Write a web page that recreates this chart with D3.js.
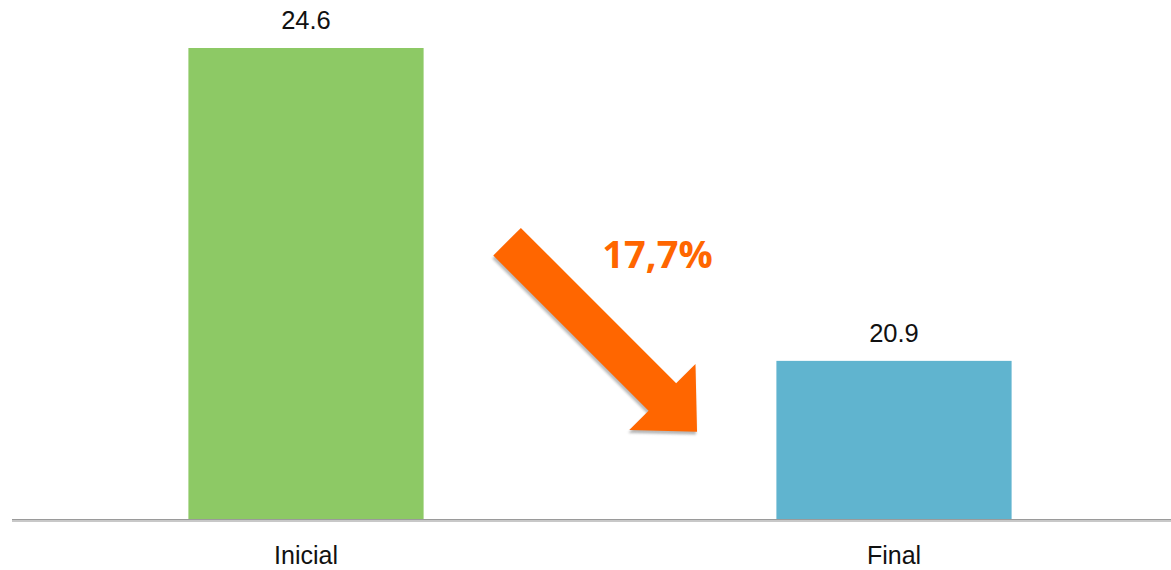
<!DOCTYPE html>
<html>
<head>
    <script src="https://d3js.org/d3.v7.min.js"></script>
    <style>
        body { margin: 0; background: #fff; }
    </style>
</head>
<body>
    <svg width="1171" height="570"></svg>

    <script>
        var categories = ["Inicial", "Final"];
        var values = [24.6, 20.9];
        var valueLabels = ["24.6", "20.9"];
        var barColors = ["#8dc965", "#60b4cf"];
        var changeLabel = "17,7%";

        var width = 1171;
        var height = 570;
        var baseY = 519;

        var svg = d3.select("svg")
            .attr("width", width)
            .attr("height", height);

        var x = d3.scaleBand()
            .domain(categories)
            .range([12, 1188])
            .paddingInner(0.6)
            .paddingOuter(0.3);

        // el eje no empieza en cero
        var y = d3.scaleLinear()
            .domain([19.03, 24.6])
            .range([baseY, 48]);

        var data = categories.map(function(c, i) {
            return { cat: c, val: values[i], label: valueLabels[i], color: barColors[i] };
        });

        svg.selectAll(".bar")
            .data(data)
            .enter().append("rect")
            .attr("class", "bar")
            .attr("x", function(d) { return x(d.cat); })
            .attr("y", function(d) { return y(d.val); })
            .attr("width", x.bandwidth())
            .attr("height", function(d) { return baseY - y(d.val); })
            .attr("fill", function(d) { return d.color; });

        // línea base
        svg.append("line")
            .attr("x1", 12).attr("x2", width)
            .attr("y1", baseY + 0.5).attr("y2", baseY + 0.5)
            .attr("stroke", "#9a9a9a").attr("stroke-width", 1);
        svg.append("line")
            .attr("x1", 12).attr("x2", width)
            .attr("y1", baseY + 2).attr("y2", baseY + 2)
            .attr("stroke", "#c8c8c8").attr("stroke-width", 2);

        // valores encima de las barras
        svg.selectAll(".val")
            .data(data)
            .enter().append("text")
            .attr("class", "val")
            .attr("x", function(d) { return x(d.cat) + x.bandwidth() / 2; })
            .attr("y", function(d) { return y(d.val) - 19; })
            .attr("text-anchor", "middle")
            .style("font-family", "'Liberation Sans', Arial, sans-serif")
            .style("font-size", "25.5px")
            .style("fill", "#111")
            .text(function(d) { return d.label; });

        // etiquetas de categoría
        svg.selectAll(".cat")
            .data(data)
            .enter().append("text")
            .attr("class", "cat")
            .attr("x", function(d) { return x(d.cat) + x.bandwidth() / 2; })
            .attr("y", 564)
            .attr("text-anchor", "middle")
            .style("font-family", "'Liberation Sans', Arial, sans-serif")
            .style("font-size", "25px")
            .style("fill", "#111")
            .text(function(d) { return d.cat; });

        // flecha de variación
        var L = 268.6, shaftW = 19.5, headW = 46.8, headL = 49;
        var arrowPts = [[0, -shaftW], [L - headL, -shaftW], [L - headL, -headW], [L, 0],
                        [L - headL, headW], [L - headL, shaftW], [0, shaftW]];
        var tailX = x("Inicial") + x.bandwidth() + 83.5;
        var tailY = 241.7;

        var defs = svg.append("defs");
        defs.append("filter").attr("id", "blur")
            .append("feGaussianBlur").attr("stdDeviation", 1);

        var arrowG = svg.append("g")
            .attr("transform", "translate(" + tailX + "," + tailY + ") rotate(45)");

        arrowG.append("polygon")
            .attr("points", arrowPts.map(function(p) { return p.join(","); }).join(" "))
            .attr("transform", "rotate(-45) translate(-1,3) rotate(45)")
            .attr("fill", "#9a9a9a")
            .attr("opacity", 0.7)
            .attr("filter", "url(#blur)");

        arrowG.append("polygon")
            .attr("points", arrowPts.map(function(p) { return p.join(","); }).join(" "))
            .attr("fill", "#ff6600");

        svg.append("text")
            .attr("x", 657.5)
            .attr("y", 268)
            .attr("text-anchor", "middle")
            .style("font-family", "'Open Sans', sans-serif")
            .style("font-weight", "bold")
            .style("font-size", "38px")
            .style("fill", "#ff6600")
            .text(changeLabel);
    </script>
</body>
</html>
